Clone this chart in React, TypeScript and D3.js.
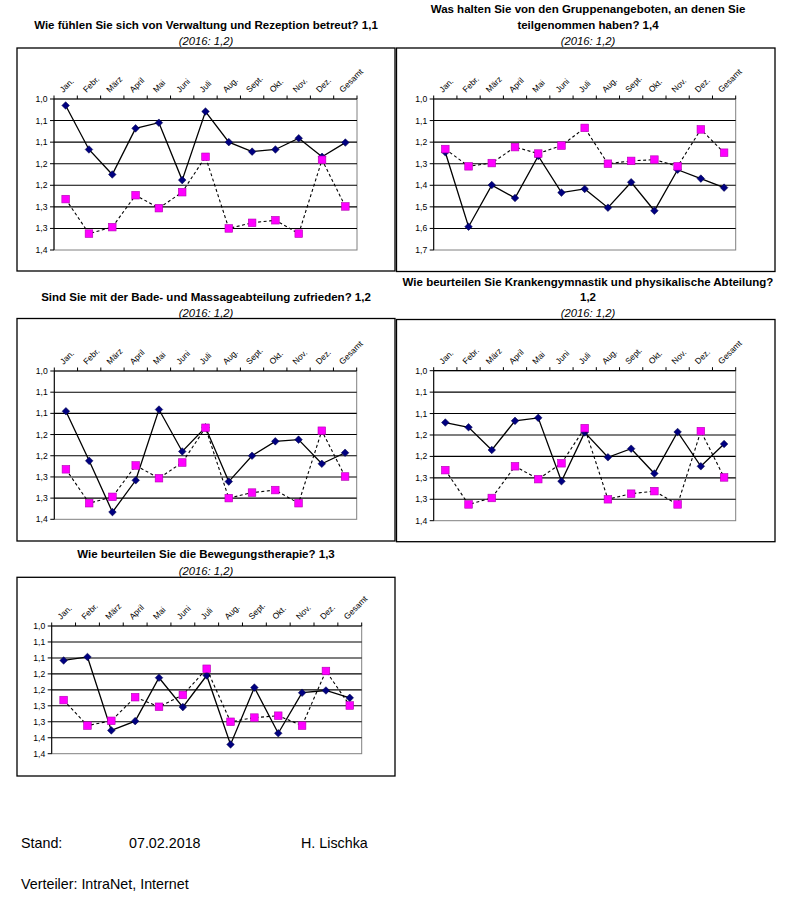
import React from "react";
import * as d3 from "d3";

// ---------- DATA ----------
const categories = ["Jan.", "Febr.", "März", "April", "Mai", "Juni", "Juli", "Aug.", "Sept.", "Okt.", "Nov.", "Dez.", "Gesamt"];

// Vorjahr 2016 (magenta squares, dashed line) – identical in every panel
const values2016 = [1.232, 1.312, 1.297, 1.223, 1.253, 1.216, 1.134, 1.300, 1.287, 1.281, 1.312, 1.141, 1.249];

// 2017 values (navy diamonds, solid line)
const verwaltung2017 = [1.015, 1.117, 1.175, 1.068, 1.055, 1.188, 1.029, 1.100, 1.122, 1.117, 1.091, 1.134, 1.101];
const gruppen2017 = [1.247, 1.592, 1.399, 1.459, 1.264, 1.434, 1.417, 1.504, 1.386, 1.518, 1.328, 1.369, 1.411];
const badeMassage2017 = [1.095, 1.212, 1.333, 1.258, 1.091, 1.190, 1.133, 1.261, 1.200, 1.166, 1.162, 1.219, 1.193];
const krankengymnastik2017 = [1.121, 1.132, 1.185, 1.117, 1.110, 1.258, 1.144, 1.202, 1.182, 1.240, 1.143, 1.223, 1.171];
const bewegung2017 = [1.108, 1.097, 1.327, 1.298, 1.162, 1.254, 1.155, 1.371, 1.193, 1.336, 1.209, 1.202, 1.225];

// y axis ticks (reversed axis, 1,0 on top)
const ticksA = [1.0, 1.05, 1.1, 1.15, 1.2, 1.25, 1.3, 1.35];
const tickLabelsA = ["1,0", "1,1", "1,1", "1,2", "1,2", "1,3", "1,3", "1,4"];
const ticksB = [1.0, 1.1, 1.2, 1.3, 1.4, 1.5, 1.6, 1.7];
const tickLabelsB = ["1,0", "1,1", "1,2", "1,3", "1,4", "1,5", "1,6", "1,7"];
const ticksC = [1.0, 1.05, 1.1, 1.15, 1.2, 1.25, 1.3, 1.35, 1.4];
const tickLabelsC = ["1,0", "1,1", "1,1", "1,2", "1,2", "1,3", "1,3", "1,4", "1,4"];

const titles1 = ["Wie fühlen Sie sich von Verwaltung und Rezeption betreut? 1,1"];
const titles2 = ["Was halten Sie von den Gruppenangeboten, an denen Sie", "teilgenommen haben? 1,4"];
const titles3 = ["Sind Sie mit der Bade- und Massageabteilung zufrieden? 1,2"];
const titles4 = ["Wie beurteilen Sie Krankengymnastik und physikalische Abteilung?", "1,2"];
const titles5 = ["Wie beurteilen Sie die Bewegungstherapie? 1,3"];
const subtitle = "(2016: 1,2)";

// ---------- LAYOUT ----------
const FONT = "'Liberation Sans', Arial, Helvetica, sans-serif";

type Panel = {
  titles: string[];
  titleY: number[];
  subY: number;
  cx: number;
  box: [number, number, number, number];
  plot: [number, number, number, number];
  ticks: number[];
  tickLabels: string[];
  values: number[];
};

const panels: Panel[] = [
  { titles: titles1, titleY: [24.5], subY: 40.8, cx: 206, box: [17, 48, 395, 271], plot: [54, 99, 357, 250], ticks: ticksA, tickLabels: tickLabelsA, values: verwaltung2017 },
  { titles: titles2, titleY: [9.3, 24.5], subY: 40.8, cx: 588, box: [396.5, 48, 775, 271.5], plot: [433.7, 99, 735.7, 250], ticks: ticksB, tickLabels: tickLabelsB, values: gruppen2017 },
  { titles: titles3, titleY: [296.8], subY: 313, cx: 206, box: [17, 318.5, 395, 541], plot: [54.3, 371, 356.7, 519.3], ticks: ticksA, tickLabels: tickLabelsA, values: badeMassage2017 },
  { titles: titles4, titleY: [282, 297], subY: 313.2, cx: 588, box: [396.5, 319.5, 775, 541.7], plot: [433.7, 370.7, 735.7, 520.7], ticks: ticksA, tickLabels: tickLabelsA, values: krankengymnastik2017 },
  { titles: titles5, titleY: [554.2], subY: 570.8, cx: 206, box: [17, 577.3, 395, 776], plot: [51.7, 626, 361.7, 753.7], ticks: ticksC, tickLabels: tickLabelsC, values: bewegung2017 },
];

function ChartPanel({ p }: { p: Panel }) {
  const [x0, y0, x1, y1] = p.plot;
  const x = d3.scaleBand<string>().domain(categories).range([x0, x1]);
  const y = d3
    .scaleLinear()
    .domain([p.ticks[0], p.ticks[p.ticks.length - 1]])
    .range([y0, y1]);
  const cxOf = (c: string) => (x(c) as number) + x.bandwidth() / 2;
  const line = d3
    .line<number>()
    .x((_, i) => cxOf(categories[i]))
    .y((v) => y(v));
  const boundaries = d3.range(categories.length + 1).map((i) => x0 + i * x.step());
  const [bx0, by0, bx1, by1] = p.box;

  return (
    <g>
      {p.titles.map((t, i) => (
        <text key={i} x={p.cx} y={p.titleY[i]} textAnchor="middle" dy="0.35em" fontFamily={FONT} fontWeight="bold" fontSize={11.5} fill="#000">
          {t}
        </text>
      ))}
      <text x={p.cx} y={p.subY} textAnchor="middle" dy="0.35em" fontFamily={FONT} fontStyle="italic" fontSize={11.3} fill="#000">
        {subtitle}
      </text>
      <rect x={bx0} y={by0} width={bx1 - bx0} height={by1 - by0} fill="#fff" stroke="#000" strokeWidth={1.3} />
      {/* plot area */}
      <rect x={x0} y={y0} width={x1 - x0} height={y1 - y0} fill="#fff" stroke="#808080" strokeWidth={1} />
      {/* gridlines */}
      {p.ticks.slice(1, -1).map((t, i) => (
        <line key={i} x1={x0} x2={x1} y1={y(t)} y2={y(t)} stroke="#000" strokeWidth={1.1} />
      ))}
      {/* y axis */}
      <line x1={x0} x2={x0} y1={y0} y2={y1} stroke="#000" strokeWidth={1} />
      {p.ticks.map((t, i) => (
        <g key={i}>
          <line x1={x0 - 4} x2={x0} y1={y(t)} y2={y(t)} stroke="#000" strokeWidth={1} />
          <text x={x0 - 6.5} y={y(t)} dy="0.35em" textAnchor="end" fontFamily={FONT} fontSize={8.6} fill="#000">
            {p.tickLabels[i]}
          </text>
        </g>
      ))}
      {/* category axis at top */}
      <line x1={x0} x2={x1} y1={y0} y2={y0} stroke="#000" strokeWidth={1.2} />
      {boundaries.map((bx, i) => (
        <line key={i} x1={bx} x2={bx} y1={y0 - 3.5} y2={y0} stroke="#000" strokeWidth={1} />
      ))}
      {categories.map((c) => (
        <text
          key={c}
          transform={`translate(${cxOf(c) - 2.5},${y0 - 6}) rotate(-45)`}
          fontFamily={FONT}
          fontSize={8.4}
          fill="#000"
        >
          {c}
        </text>
      ))}
      {/* 2017 series */}
      <path d={line(p.values) || ""} fill="none" stroke="#000" strokeWidth={1.3} />
      {p.values.map((v, i) => {
        const cx = cxOf(categories[i]);
        const cy = y(v);
        const r = 3.8;
        return (
          <path key={i} d={`M${cx},${cy - r}L${cx + r},${cy}L${cx},${cy + r}L${cx - r},${cy}Z`} fill="#000080" stroke="#000040" strokeWidth={0.5} />
        );
      })}
      {/* 2016 series */}
      <path d={line(values2016) || ""} fill="none" stroke="#000" strokeWidth={1.1} strokeDasharray="3,2.5" />
      {values2016.map((v, i) => {
        const cx = cxOf(categories[i]);
        const cy = y(v);
        const s = 7.6;
        return <rect key={i} x={cx - s / 2} y={cy - s / 2} width={s} height={s} fill="#FF00FF" stroke="#B000B0" strokeWidth={0.6} />;
      })}
    </g>
  );
}

export default function App() {
  return (
    <svg width={800} height={898} style={{ position: "absolute", left: 0, top: 0, background: "#fff" }}>
      <rect x={0} y={0} width={800} height={898} fill="#fff" />
      {panels.map((p, i) => (
        <ChartPanel key={i} p={p} />
      ))}
      <text x={21} y={843} dy="0.35em" fontFamily={FONT} fontSize={14.3} fill="#000">Stand:</text>
      <text x={129} y={843} dy="0.35em" fontFamily={FONT} fontSize={14.3} fill="#000">07.02.2018</text>
      <text x={301} y={843} dy="0.35em" fontFamily={FONT} fontSize={14.3} fill="#000">H. Lischka</text>
      <text x={21} y={884} dy="0.35em" fontFamily={FONT} fontSize={14.3} fill="#000">Verteiler: IntraNet, Internet</text>
    </svg>
  );
}
